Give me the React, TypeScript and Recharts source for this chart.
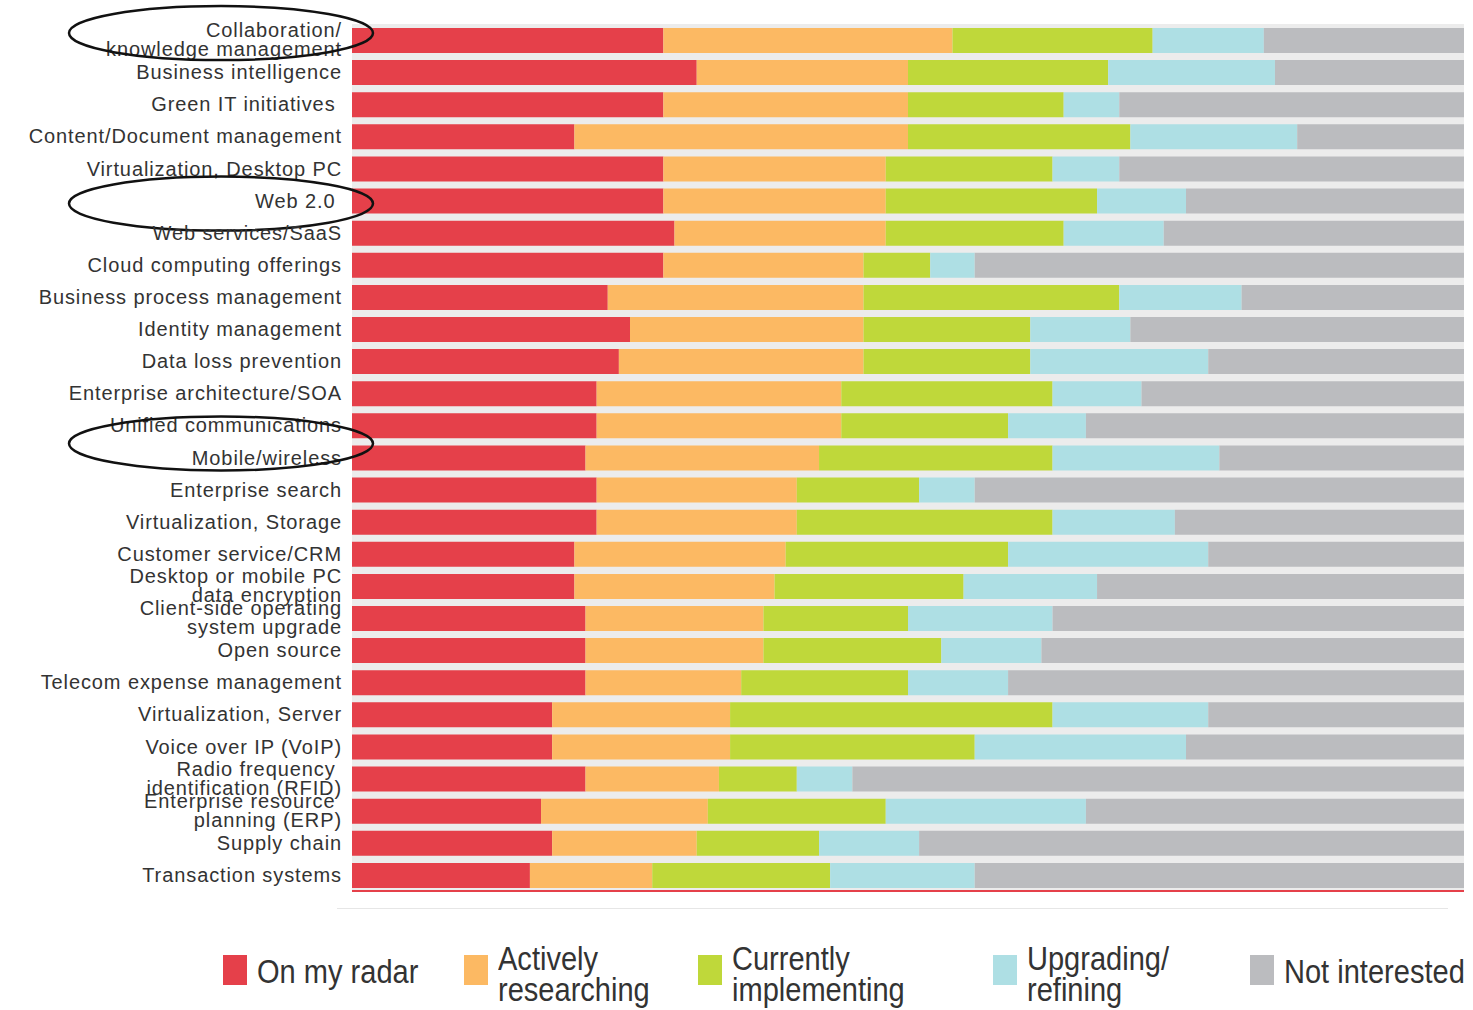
import React from 'react';
import { BarChart, Bar, XAxis, YAxis, CartesianGrid } from 'recharts';

const categories = [
  'Collaboration/\nknowledge management',
  'Business intelligence',
  'Green IT initiatives ',
  'Content/Document management',
  'Virtualization, Desktop PC',
  'Web 2.0 ',
  'Web services/SaaS',
  'Cloud computing offerings',
  'Business process management',
  'Identity management',
  'Data loss prevention',
  'Enterprise architecture/SOA',
  'Unified communications',
  'Mobile/wireless',
  'Enterprise search',
  'Virtualization, Storage',
  'Customer service/CRM',
  'Desktop or mobile PC\ndata encryption',
  'Client-side operating\nsystem upgrade',
  'Open source',
  'Telecom expense management',
  'Virtualization, Server',
  'Voice over IP (VoIP)',
  'Radio frequency \nidentification (RFID)',
  'Enterprise resource \nplanning (ERP)',
  'Supply chain',
  'Transaction systems',
];

// percent of respondents per category
const onMyRadar = [28, 31, 28, 20, 28, 28, 29, 28, 23, 25, 24, 22, 22, 21, 22, 22, 20, 20, 21, 21, 21, 18, 18, 21, 17, 18, 16];
const activelyResearching = [26, 19, 22, 30, 20, 20, 19, 18, 23, 21, 22, 22, 22, 21, 18, 18, 19, 18, 16, 16, 14, 16, 16, 12, 15, 13, 11];
const currentlyImplementing = [18, 18, 14, 20, 15, 19, 16, 6, 23, 15, 15, 19, 15, 21, 11, 23, 20, 17, 13, 16, 15, 29, 22, 7, 16, 11, 16];
const upgradingRefining = [10, 15, 5, 15, 6, 8, 9, 4, 11, 9, 16, 8, 7, 15, 5, 11, 18, 12, 13, 9, 9, 14, 19, 5, 18, 9, 13];
const notInterested = [18, 17, 31, 15, 31, 25, 27, 44, 20, 30, 23, 29, 34, 22, 44, 26, 23, 33, 37, 38, 41, 23, 25, 55, 34, 49, 44];

const series = [
  { key: 'radar', label: 'On my radar', color: '#e5404a', values: onMyRadar },
  { key: 'research', label: 'Actively\nresearching', color: '#fcb963', values: activelyResearching },
  { key: 'implement', label: 'Currently\nimplementing', color: '#bfd83a', values: currentlyImplementing },
  { key: 'upgrade', label: 'Upgrading/\nrefining', color: '#aedfe4', values: upgradingRefining },
  { key: 'none', label: 'Not interested', color: '#bbbcbf', values: notInterested },
];

const data = categories.map((name, i) => {
  const row: any = { name };
  series.forEach((s) => (row[s.key] = s.values[i]));
  return row;
});

// circled rows in the original, offset of ellipse centre from tick centre
const circled: Record<string, number> = {
  'Collaboration/\nknowledge management': -7,
  'Web 2.0 ': 3,
  'Mobile/wireless': -14,
};

const legendX = [223, 464, 698, 993, 1250];

function CategoryTick({ y, payload }: any) {
  const lines = String(payload.value).split('\n');
  const two = lines.length > 1;
  const off = circled[payload.value];
  return (
    <g>
      <text
        x={342}
        y={y}
        textAnchor="end"
        fill="#333"
        fontSize={20}
        letterSpacing={0.9}
        fontFamily="'Liberation Sans', Arial, sans-serif"
        style={{ whiteSpace: 'pre' }}
      >
        {lines.map((l, i) => (
          <tspan key={i} x={342} dy={two ? (i === 0 ? -3 : 19) : 7}>
            {l}
          </tspan>
        ))}
      </text>
      {off !== undefined && (
        <ellipse cx={221} cy={y + off} rx={152} ry={27} fill="none" stroke="#111" strokeWidth={2.5} />
      )}
    </g>
  );
}

function LegendBlock() {
  return (
    <div style={{ position: 'absolute', left: 0, top: 955, width: 1473, height: 55 }}>
      {series.map((s, i) => {
        const lines = s.label.split('\n');
        return (
          <div key={s.key} style={{ position: 'absolute', left: legendX[i], top: 0 }}>
            <div style={{ position: 'absolute', left: 0, top: 0, width: 24, height: 30, background: s.color }} />
            <div
              style={{
                position: 'absolute',
                left: 34,
                top: lines.length > 1 ? -12 : 1,
                whiteSpace: 'nowrap',
                fontFamily: "'Liberation Sans', Arial, sans-serif",
                fontSize: 33,
                lineHeight: '31px',
                color: '#333',
                transform: 'scaleX(0.88)',
                transformOrigin: 'left top',
              }}
            >
              {lines.map((l, j) => (
                <div key={j}>{l}</div>
              ))}
            </div>
          </div>
        );
      })}
    </div>
  );
}

export default function App() {
  return (
    <div style={{ position: 'absolute', left: 0, top: 0, width: 1473, height: 1010, background: '#fff', overflow: 'hidden' }}>
      <BarChart
        width={1473}
        height={1010}
        data={data}
        layout="vertical"
        margin={{ top: 24, right: 9, bottom: 118, left: 0 }}
        barSize={25}
      >
        <CartesianGrid fill="#ececec" stroke="none" horizontal={false} vertical={false} />
        <XAxis
          type="number"
          domain={[0, 100]}
          tick={false}
          tickLine={false}
          height={1}
          axisLine={{ stroke: '#e5404a', strokeWidth: 2 }}
        />
        <YAxis
          type="category"
          dataKey="name"
          width={352}
          interval={0}
          axisLine={false}
          tickLine={false}
          tick={<CategoryTick />}
        />
        {series.map((s) => (
          <Bar key={s.key} dataKey={s.key} stackId="a" fill={s.color} name={s.label} isAnimationActive={false} />
        ))}
      </BarChart>
      <div style={{ position: 'absolute', left: 337, top: 908, width: 1111, height: 1, background: '#e6e6e6' }} />
      <LegendBlock />
    </div>
  );
}
